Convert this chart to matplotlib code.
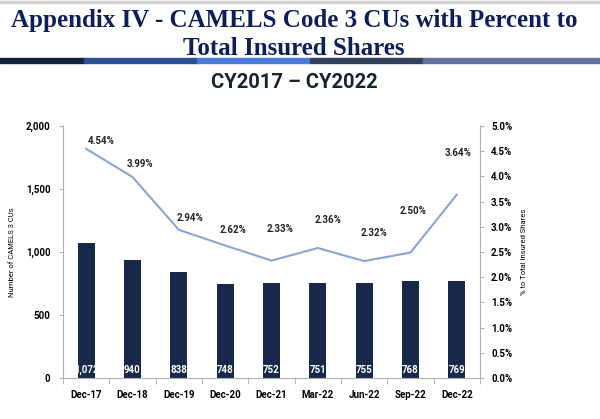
# CAMELS code 3 chart, bars + percent line on twin axis
import matplotlib.pyplot as plt
import numpy as np
from matplotlib.patches import Rectangle

quarters = ['Dec-17', 'Dec-18', 'Dec-19', 'Dec-20', 'Dec-21',
            'Mar-22', 'Jun-22', 'Sep-22', 'Dec-22']
cu_counts = [1072, 940, 838, 748, 752, 751, 755, 768, 769]
cu_labels = ['1,072', '940', '838', '748', '752', '751', '755', '768', '769']
# line as drawn in the picture (percent)
pct_line = [4.55, 3.99, 2.94, 2.63, 2.33, 2.58, 2.32, 2.49, 3.64]
pct_labels = ['4.54%', '3.99%', '2.94%', '2.62%', '2.33%',
              '2.36%', '2.32%', '2.50%', '3.64%']

# label offsets from the line points, in points (x, y)
lab_dx = [11, 5, 8, 6, 6, 7, 7, 2, 1]
lab_dy = [5.5, 9.6, 8.9, 11.5, 22.8, 20, 20, 30, 29.7]

navy = '#17284a'
line_col = '#8aa4d4'
font = 'Roboto'

fig = plt.figure(figsize=(6, 4.19), dpi=100)

# header
fig.text(0.49, 0.951, 'Appendix IV - CAMELS Code 3 CUs with Percent to',
         ha='center', va='center', fontsize=18, fontweight='bold',
         family='Liberation Serif', color='#0d1f5a')
fig.text(0.49, 0.884, 'Total Insured Shares',
         ha='center', va='center', fontsize=18, fontweight='bold',
         family='Liberation Serif', color='#0d1f5a')
stripe = [(0, 84, '#14233f'), (84, 197, '#2e4f94'), (197, 310, '#4a7bd6'),
          (310, 423, '#35425f'), (423, 600, '#61719a')]
for x0, x1, c in stripe:
    fig.patches.append(Rectangle((x0 / 600, 1 - 63 / 419), (x1 - x0) / 600, 4.5 / 419,
                                 transform=fig.transFigure, color=c, zorder=0))
fig.patches.append(Rectangle((0, 1 - 3 / 419), 1, 1.5 / 419,
                             transform=fig.transFigure, color='#d0d0d0', zorder=0))
fig.text(0.49, 0.804, 'CY2017 \u2013 CY2022', ha='center', va='center',
         fontsize=14.5, fontweight='bold', family=font, color='#1b2233')

ax = fig.add_axes([0.105, 0.098, 0.695, 0.601])
x = np.arange(len(quarters))
bars = ax.bar(x, cu_counts, width=0.36, color=navy, zorder=2)
for xi, lab in zip(x, cu_labels):
    ax.text(xi, 25, lab, ha='center', va='bottom', color='white',
            fontsize=7, fontweight='bold', family=font, zorder=3)

ax.set_xlim(-0.5, len(quarters) - 0.5)
ax.set_ylim(0, 2000)
ax.set_yticks(range(0, 2001, 500))
ax.set_yticklabels([f'{v:,}' for v in range(0, 2001, 500)])
ax.set_xticks(x)
ax.set_xticklabels(quarters)
ax.set_xticks(np.arange(-0.5, len(quarters), 1), minor=True)
ax.tick_params(axis='x', which='major', length=0, pad=9)
ax.tick_params(axis='x', which='minor', length=4, color='#b0b0b0')
ax.tick_params(axis='y', length=3, color='#b0b0b0', pad=6)
for lab in ax.get_xticklabels() + ax.get_yticklabels():
    lab.set_fontsize(7)
    lab.set_fontweight('bold')
    lab.set_family(font)
ax.set_ylabel('Number of CAMELS 3 CUs', fontsize=5.5, family=font, labelpad=8)
for s in ['top', 'right']:
    ax.spines[s].set_visible(False)
ax.spines['left'].set_color('#b0b0b0')
ax.spines['bottom'].set_color('#b0b0b0')

ax2 = ax.twinx()
ax2.plot(x, pct_line, color=line_col, lw=1.5, zorder=3)
for xi, yi, lab, dx, dy in zip(x, pct_line, pct_labels, lab_dx, lab_dy):
    ax2.annotate(lab, (xi, yi), xytext=(dx, dy), textcoords='offset points',
                 ha='center', va='center', fontsize=7, fontweight='bold',
                 family=font, color='#222222')
ax2.set_ylim(0, 5)
ax2.set_yticks(np.arange(0, 5.01, 0.5))
ax2.set_yticklabels([f'{v:.1f}%' for v in np.arange(0, 5.01, 0.5)])
ax2.tick_params(axis='y', length=3, color='#b0b0b0', pad=5)
for lab in ax2.get_yticklabels():
    lab.set_fontsize(7)
    lab.set_fontweight('bold')
    lab.set_family(font)
ax2.set_ylabel('% to Total Insured Shares', fontsize=5.5, family=font, labelpad=6)
for s in ['top', 'left', 'bottom']:
    ax2.spines[s].set_visible(False)
ax2.spines['right'].set_color('#b0b0b0')

fig.savefig('out.png', dpi=100)
